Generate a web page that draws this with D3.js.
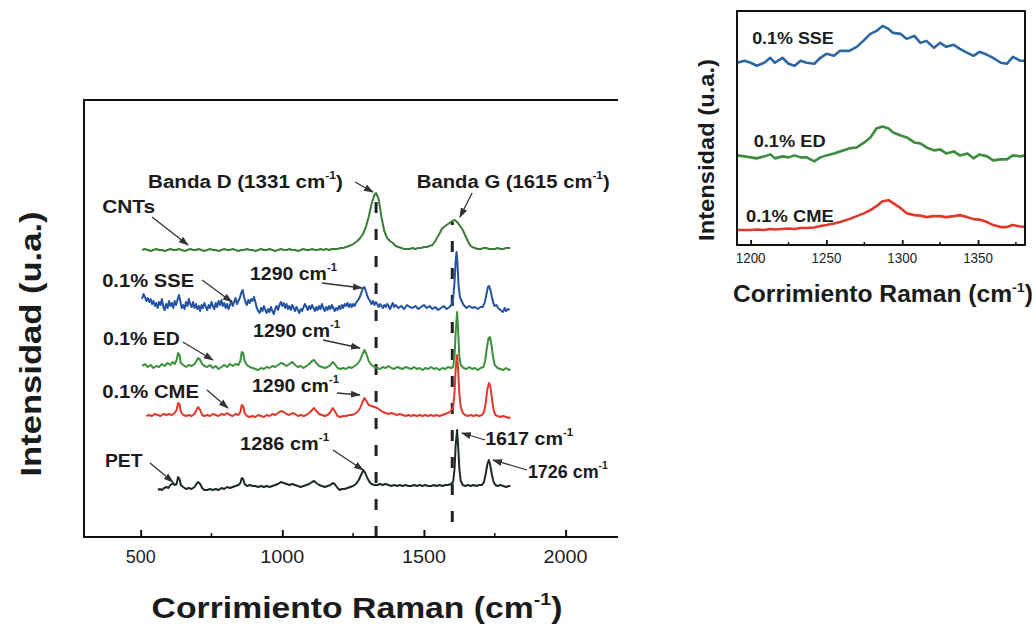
<!DOCTYPE html>
<html>
<head>
<meta charset="utf-8">
<script src="https://cdn.jsdelivr.net/npm/d3@7"></script>
<style>
  html, body { margin: 0; padding: 0; background: #fff; }
  svg { display: block; font-family: "Liberation Sans", Arial, Helvetica, sans-serif; }
</style>
</head>
<body>
<svg id="chart" width="1035" height="626"></svg>
<script>
// ---------------------------------------------------------------
// Raman spectra (wavenumber cm-1, stacked intensity in a.u.)
// ---------------------------------------------------------------
const cntsSpectrum = [[505,287],[515,288],[525,287],[535,286],[545,287],[555,288],[565,287],[575,287],[585,286],[595,287],[605,288],[615,287],[625,287],[635,288],[645,287],[655,286],[665,287],[675,288],[685,287],[695,287],[705,288],[715,287],[725,286],[735,287],[745,288],[755,287],[765,287],[775,286],[785,287],[795,288],[805,287],[815,287],[825,288],[835,287],[845,286],[855,287],[865,287],[875,288],[885,287],[895,287],[905,286],[915,287],[925,288],[935,287],[945,287],[955,288],[965,287],[975,286],[985,287],[995,288],[1005,287],[1015,287],[1025,288],[1035,287],[1045,287],[1055,286],[1065,287],[1075,288],[1085,287],[1095,287],[1105,288],[1115,287],[1125,287],[1135,288],[1145,287],[1155,288],[1165,287],[1175,288],[1185,288],[1195,288],[1205,289],[1215,289],[1225,290],[1235,291],[1245,292],[1255,294],[1265,296],[1275,299],[1285,303],[1295,310],[1305,320],[1315,333],[1325,342],[1331,344],[1340,338],[1350,320],[1360,306],[1370,299],[1380,296],[1390,294],[1400,291],[1410,290],[1420,289],[1430,288],[1440,288],[1450,288],[1460,289],[1470,288],[1480,289],[1490,289],[1500,290],[1510,290],[1520,291],[1530,292],[1540,296],[1550,301],[1556,304],[1563,308],[1570,310],[1580,312],[1590,314],[1600,316],[1609,317],[1620,314],[1630,310],[1637,307],[1645,302],[1655,296],[1662,292],[1670,290],[1680,289],[1690,288],[1700,288],[1710,289],[1720,289],[1730,288],[1740,288],[1750,288],[1760,289],[1770,288],[1780,288],[1790,289],[1800,289],[1805,289]];

const sseSpectrum = [[505,238],[510,243],[515,240],[520,236],[525,239],[530,235],[535,238],[540,233],[545,236],[550,231],[555,234],[560,229],[565,235],[570,232],[575,238],[580,230],[585,227],[590,233],[595,229],[600,236],[605,231],[610,234],[615,229],[620,236],[625,232],[630,237],[635,242],[640,236],[645,229],[650,232],[655,228],[660,235],[665,231],[670,238],[675,233],[680,230],[685,235],[690,229],[695,233],[700,228],[705,231],[710,226],[715,232],[720,229],[725,234],[730,230],[735,227],[740,232],[745,229],[750,235],[755,231],[760,228],[765,234],[770,230],[775,236],[780,232],[785,237],[790,231],[795,234],[800,229],[805,233],[810,228],[815,232],[820,236],[825,231],[830,235],[835,239],[840,233],[845,236],[850,239],[855,244],[860,247],[865,240],[870,235],[875,232],[880,237],[885,234],[890,238],[895,236],[900,240],[905,235],[910,229],[915,226],[920,224],[925,229],[930,226],[935,231],[940,227],[945,224],[950,228],[955,225],[960,230],[965,226],[970,223],[975,228],[980,231],[985,227],[990,232],[995,235],[1000,231],[1005,234],[1010,229],[1015,233],[1020,228],[1025,231],[1030,227],[1035,232],[1040,229],[1045,226],[1050,230],[1055,227],[1060,224],[1065,228],[1070,226],[1075,230],[1080,233],[1085,230],[1090,227],[1095,231],[1100,228],[1105,232],[1110,229],[1115,226],[1120,230],[1125,227],[1130,231],[1135,228],[1140,233],[1145,229],[1150,226],[1155,230],[1160,227],[1165,231],[1170,228],[1175,232],[1180,229],[1185,226],[1190,229],[1195,227],[1200,231],[1205,228],[1210,232],[1215,229],[1220,233],[1225,231],[1230,234],[1235,230],[1240,233],[1245,230],[1250,233],[1255,231],[1260,234],[1265,236],[1270,238],[1275,241],[1280,245],[1285,249],[1290,250],[1295,246],[1300,241],[1305,238],[1310,236],[1315,233],[1320,236],[1325,232],[1330,235],[1335,233],[1340,230],[1345,233],[1350,231],[1355,229],[1360,232],[1365,230],[1370,233],[1375,231],[1380,228],[1385,231],[1390,234],[1395,230],[1400,232],[1410,229],[1420,231],[1430,228],[1440,232],[1450,230],[1460,229],[1470,231],[1480,228],[1490,230],[1500,232],[1510,229],[1520,231],[1530,228],[1540,230],[1550,227],[1560,229],[1570,231],[1580,228],[1590,230],[1597,232],[1603,238],[1608,255],[1612,276],[1615,285],[1618,276],[1622,252],[1627,240],[1633,236],[1640,232],[1650,229],[1660,231],[1670,229],[1680,230],[1690,228],[1700,230],[1708,230],[1715,235],[1720,242],[1726,250],[1730,251],[1735,247],[1740,240],[1745,234],[1750,231],[1756,232],[1762,229],[1770,227],[1779,225],[1785,229],[1790,226],[1797,228],[1803,227]];

const edSpectrum = [[505,171],[515,173],[525,170],[535,172],[545,169],[555,171],[565,170],[575,173],[585,171],[595,174],[605,172],[612,175],[620,173],[627,177],[632,184],[637,182],[642,174],[650,172],[660,170],[670,172],[680,171],[690,173],[697,176],[703,179],[710,177],[717,173],[725,171],[735,170],[745,172],[755,169],[765,171],[775,168],[785,170],[795,172],[805,170],[815,173],[825,171],[835,173],[845,172],[852,176],[857,185],[862,184],[867,176],[875,172],[885,170],[895,169],[905,168],[915,167],[925,169],[935,168],[945,170],[955,169],[965,171],[975,170],[985,172],[995,174],[1005,173],[1015,171],[1025,173],[1035,175],[1045,172],[1055,170],[1065,171],[1075,169],[1085,171],[1095,173],[1105,176],[1112,177],[1120,174],[1130,171],[1140,170],[1150,169],[1160,170],[1170,172],[1178,175],[1185,173],[1195,169],[1205,168],[1215,169],[1225,168],[1235,170],[1245,169],[1255,171],[1265,173],[1275,177],[1283,183],[1290,187],[1297,183],[1305,176],[1315,172],[1325,170],[1335,169],[1345,168],[1355,170],[1365,169],[1375,171],[1385,169],[1395,168],[1405,170],[1415,169],[1425,168],[1435,170],[1445,169],[1455,168],[1465,170],[1475,168],[1485,169],[1495,167],[1505,169],[1515,168],[1525,170],[1535,168],[1545,169],[1555,167],[1565,169],[1575,168],[1585,170],[1595,169],[1603,170],[1608,180],[1612,205],[1617,225],[1621,205],[1625,180],[1630,172],[1640,169],[1650,168],[1660,170],[1670,168],[1680,169],[1690,167],[1700,169],[1710,170],[1716,176],[1722,189],[1728,199],[1733,200],[1738,193],[1744,180],[1750,172],[1760,169],[1770,168],[1780,167],[1790,169],[1800,167],[1805,168]];

const cmeSpectrum = [[520,121],[530,122],[540,121],[550,123],[560,122],[570,121],[580,123],[590,122],[600,123],[610,122],[620,124],[627,127],[632,134],[637,133],[642,125],[650,122],[660,121],[670,122],[680,121],[690,123],[697,127],[703,130],[710,127],[717,122],[725,121],[735,122],[745,121],[755,123],[765,122],[775,121],[785,123],[795,122],[805,124],[815,122],[825,121],[835,123],[845,122],[852,125],[857,132],[862,131],[867,124],[875,121],[885,120],[895,121],[905,120],[915,122],[925,121],[935,120],[945,122],[955,121],[965,123],[975,122],[985,124],[995,126],[1005,125],[1015,123],[1025,122],[1035,124],[1045,123],[1055,121],[1065,122],[1075,121],[1085,122],[1095,124],[1105,127],[1112,129],[1120,126],[1130,123],[1140,122],[1150,121],[1160,122],[1170,125],[1178,129],[1185,126],[1195,121],[1205,120],[1215,121],[1225,121],[1235,122],[1245,122],[1255,123],[1265,125],[1275,129],[1283,135],[1290,139],[1297,136],[1305,132],[1315,131],[1325,130],[1335,129],[1345,127],[1355,125],[1365,124],[1375,123],[1385,124],[1395,123],[1405,122],[1415,123],[1425,122],[1435,121],[1445,122],[1455,121],[1465,122],[1475,121],[1485,122],[1495,121],[1505,122],[1515,121],[1525,122],[1535,121],[1545,122],[1555,121],[1565,122],[1575,123],[1585,124],[1595,126],[1603,130],[1608,145],[1612,168],[1617,182],[1621,166],[1625,143],[1630,130],[1637,124],[1645,122],[1655,121],[1665,122],[1675,121],[1685,122],[1695,121],[1705,122],[1712,125],[1718,134],[1724,148],[1730,154],[1735,150],[1740,138],[1746,127],[1752,122],[1760,121],[1770,120],[1780,121],[1790,120],[1800,119],[1805,120]];

const petSpectrum = [[561,47],[568,48],[575,47],[583,49],[591,50],[598,49],[605,52],[614,54],[620,52],[627,53],[632,60],[637,58],[642,52],[650,50],[660,48],[670,49],[680,48],[690,50],[697,53],[703,55],[710,53],[717,49],[725,47],[735,47],[745,48],[755,47],[765,48],[775,47],[785,49],[795,48],[805,50],[815,49],[825,50],[835,51],[845,52],[852,54],[857,59],[862,58],[867,53],[875,51],[885,52],[895,51],[905,51],[915,50],[925,51],[935,50],[945,51],[955,50],[965,51],[975,52],[985,53],[995,55],[1005,54],[1015,53],[1025,52],[1035,53],[1045,52],[1055,51],[1065,50],[1075,51],[1085,52],[1095,53],[1105,55],[1112,56],[1120,54],[1130,52],[1140,51],[1150,50],[1160,51],[1170,52],[1178,54],[1185,53],[1195,49],[1203,47],[1210,48],[1220,48],[1230,49],[1240,50],[1250,51],[1260,53],[1270,57],[1278,62],[1286,67],[1293,64],[1300,59],[1308,55],[1315,53],[1325,52],[1335,52],[1345,53],[1355,52],[1365,53],[1375,52],[1385,51],[1395,52],[1405,51],[1415,52],[1425,51],[1435,52],[1445,51],[1455,51],[1465,52],[1475,51],[1485,52],[1495,51],[1505,52],[1515,51],[1525,51],[1535,52],[1545,51],[1555,52],[1565,51],[1575,52],[1585,52],[1595,53],[1603,55],[1608,68],[1612,92],[1617,107],[1621,90],[1625,68],[1630,56],[1637,52],[1645,51],[1655,52],[1665,51],[1675,52],[1685,51],[1695,52],[1705,52],[1712,55],[1718,63],[1724,73],[1729,77],[1734,72],[1740,62],[1746,55],[1752,52],[1760,51],[1770,52],[1780,51],[1790,50],[1800,51],[1805,51]];

const seriesNames  = ["CNTs", "0.1% SSE", "0.1% ED", "0.1% CME", "PET"];
const seriesColors = ["#3b7d37", "#2553a3", "#3a913c", "#e2382a", "#1f2a24"];
const seriesData   = [cntsSpectrum, sseSpectrum, edSpectrum, cmeSpectrum, petSpectrum];

// Reference band positions (dashed guides) and the top of each guide
const bandPositions = [1331, 1600];
const bandTops      = [342, 315];

// Axis settings
const mainXDomain = [300, 2185];
const mainYDomain = [0, 437];
const mainXTicks  = [500, 1000, 1500, 2000];
const mainXMinor  = [750, 1250, 1750];

// Peak annotations: label text, label anchor (wn, a.u.), arrow from -> to
const peakLabels = [
  { pre: "Banda D (1331 cm", sup: "-1", post: ")", at: [526, 349], w: 195, from: [1257, 355], to: [1320, 345] },
  { pre: "Banda G (1615 cm", sup: "-1", post: ")", at: [1475, 349], w: 193, from: [1670, 344], to: [1627, 320] },
  { pre: "CNTs", at: [364, 324], w: 53, from: [540, 320], to: [667, 292] },
  { pre: "0.1% SSE", at: [364, 250], w: 92, from: [717, 257], to: [822, 235] },
  { pre: "1290 cm", sup: "-1", at: [886, 257], w: 87, from: [1140, 254], to: [1281, 249] },
  { pre: "0.1% ED", at: [367, 192], w: 77, from: [649, 195], to: [755, 177] },
  { pre: "1290 cm", sup: "-1", at: [897, 200], w: 87, from: [1144, 197], to: [1274, 189] },
  { pre: "0.1% CME", at: [364, 139], w: 97, from: [734, 147], to: [808, 129] },
  { pre: "1290 cm", sup: "-1", at: [893, 145], w: 87, from: [1193, 144], to: [1274, 142] },
  { pre: "PET", at: [374, 70], w: 38, from: [533, 74], to: [614, 55] },
  { pre: "1286 cm", sup: "-1", at: [851, 87], w: 89, from: [1179, 87], to: [1285, 67] },
  { pre: "1617 cm", sup: "-1", at: [1716, 92], w: 88, from: [1716, 97], to: [1634, 104] },
  { pre: "1726 cm", sup: "-1", at: [1867, 59], w: 80, from: [1864, 67], to: [1744, 77] }
];

// Inset: 1190-1380 cm-1 region
const insetWavenumbers = [1191,1196,1200,1204,1209,1213,1216,1221,1225,1229,1233,1237,1242,1246,1250,1255,1259,1265,1270,1275,1279,1283,1287,1291,1294,1299,1303,1308,1312,1316,1321,1325,1329,1334,1338,1343,1347,1351,1356,1360,1365,1369,1373,1378,1381];
const insetSSE = [183,185,183,180,183,188,183,188,182,180,185,183,182,188,192,190,195,195,199,206,212,215,220,217,213,212,207,210,203,205,198,203,199,201,197,193,190,194,191,188,183,182,189,185,185];
const insetED  = [90,89,88,87,89,91,87,89,88,90,88,88,84,88,90,92,94,97,98,103,108,117,119,117,113,110,108,103,102,98,95,96,92,94,90,92,87,91,89,85,86,86,90,89,90];
const insetCME = [15,15,15,15.5,15,16,15.5,16,16.5,16,17,17,17.5,19,20,21.5,23,26,29,32,35,39,44,45,42,37,32,30,29.5,28,29,29,28,29,30,28,26,25.5,23,20,18,18,20,18.5,18];
const insetNames  = ["0.1% SSE", "0.1% ED", "0.1% CME"];
const insetColors = ["#2a67a3", "#3d8b3f", "#e2382a"];
const insetLabelAt = [[1201, 202], [1202, 98], [1197, 23]];
const insetLabelW  = [82, 72, 88];
const insetXDomain = [1191, 1381];
const insetYDomain = [0, 235];
const insetXTicks  = [1200, 1250, 1300, 1350];
const insetXMinor  = [1225, 1275, 1325, 1375];

// ---------------------------------------------------------------
const svg = d3.select("#chart");
const ink = "#1b1b1b";

// text helper: optional superscript, stretched to a given width
function label(parent, o) {
  const g = parent.append("g")
    .attr("transform", `translate(${o.x},${o.y}) rotate(${o.rotate || 0})`);
  const t = g.append("text")
    .attr("text-anchor", o.anchor || "start")
    .attr("font-size", o.size)
    .attr("font-weight", o.weight || "bold")
    .attr("fill", o.fill || ink);
  t.append("tspan").text(o.pre);
  if (o.sup) {
    t.append("tspan").attr("font-size", o.size * 0.58).attr("dy", -o.size * 0.45).text(o.sup);
    t.append("tspan").attr("dy", o.size * 0.45).text(o.post || "");
  }
  if (o.width) {
    const w = t.node().getBBox().width;
    if (w > 0) t.attr("transform", `scale(${o.width / w},1)`);
  }
  return g;
}

// arrow head marker
svg.append("defs").append("marker")
  .attr("id", "arrowHead")
  .attr("viewBox", "0 0 10 8")
  .attr("refX", 9).attr("refY", 4)
  .attr("markerWidth", 10).attr("markerHeight", 8)
  .attr("markerUnits", "userSpaceOnUse")
  .attr("orient", "auto")
  .append("path").attr("d", "M0,0.5 L10,4 L0,7.5 Z").attr("fill", "#333");

// ---------------- main panel ----------------
const M = { left: 84, right: 618, top: 100, bottom: 537 };
const x = d3.scaleLinear().domain(mainXDomain).range([M.left, M.right]);
const y = d3.scaleLinear().domain(mainYDomain).range([M.bottom, M.top]);

const mainG = svg.append("g");

// dashed band guides
bandPositions.forEach((wn, i) => {
  mainG.append("line")
    .attr("x1", x(wn)).attr("x2", x(wn))
    .attr("y1", y(0)).attr("y2", y(bandTops[i]))
    .attr("stroke", "#222").attr("stroke-width", 3)
    .attr("stroke-dasharray", "11,16")
    .attr("stroke-dashoffset", i === 0 ? 0 : 12);
});

const line = d3.line().x(d => x(d[0])).y(d => y(d[1]));
seriesData.forEach((s, i) => {
  mainG.append("path")
    .datum(s)
    .attr("d", line)
    .attr("fill", "none")
    .attr("stroke", seriesColors[i])
    .attr("stroke-width", 2)
    .attr("stroke-linejoin", "round");
});

// frame
mainG.append("path")
  .attr("d", `M${M.right},${M.top} H${M.left} V${M.bottom} H${M.right}`)
  .attr("fill", "none").attr("stroke", "#111").attr("stroke-width", 2);

// x axis ticks (inward) and labels
const xAxis = mainG.append("g").attr("transform", `translate(0,${M.bottom})`)
  .call(d3.axisBottom(x).tickValues(mainXTicks).tickSizeInner(-7).tickSizeOuter(0).tickFormat(d3.format("d")));
xAxis.select(".domain").remove();
xAxis.selectAll(".tick line").attr("stroke", "#111").attr("stroke-width", 2);
xAxis.selectAll(".tick text").remove();
mainXTicks.forEach(v => label(mainG, { x: x(v), y: 563, pre: String(v), size: 18, weight: "normal", anchor: "middle", width: v < 1000 ? 30 : 44, fill: "#222" }));
mainG.selectAll(".minorTick").data(mainXMinor).join("line")
  .attr("class", "minorTick")
  .attr("x1", d => x(d)).attr("x2", d => x(d))
  .attr("y1", M.bottom).attr("y2", M.bottom - 4)
  .attr("stroke", "#111").attr("stroke-width", 1.5);

// annotations
peakLabels.forEach(p => {
  mainG.append("line")
    .attr("x1", x(p.from[0])).attr("y1", y(p.from[1]))
    .attr("x2", x(p.to[0])).attr("y2", y(p.to[1]))
    .attr("stroke", "#333").attr("stroke-width", 1.3)
    .attr("marker-end", "url(#arrowHead)");
  label(mainG, { x: x(p.at[0]), y: y(p.at[1]), pre: p.pre, sup: p.sup, post: p.post, size: 19, width: p.w });
});

// axis titles
label(svg, { x: 41, y: 344, pre: "Intensidad (u.a.)", size: 30, anchor: "middle", rotate: -90, width: 265 });
label(svg, { x: 357, y: 618, pre: "Corrimiento Raman (cm", sup: "-1", post: ")", size: 30, anchor: "middle", width: 411 });

// ---------------- inset panel ----------------
const I = { left: 737, right: 1025, top: 11, bottom: 245 };
const xi = d3.scaleLinear().domain(insetXDomain).range([I.left, I.right]);
const yi = d3.scaleLinear().domain(insetYDomain).range([I.bottom, I.top]);
const insetG = svg.append("g");

const insetSeries = [insetSSE, insetED, insetCME];
const insetLine = d3.line().x((d, k) => xi(insetWavenumbers[k])).y(d => yi(d));
insetSeries.forEach((s, i) => {
  insetG.append("path")
    .datum(s)
    .attr("d", insetLine)
    .attr("fill", "none")
    .attr("stroke", insetColors[i])
    .attr("stroke-width", 2.6)
    .attr("stroke-linejoin", "round");
  label(insetG, { x: xi(insetLabelAt[i][0]), y: yi(insetLabelAt[i][1]), pre: insetNames[i], size: 16, width: insetLabelW[i] });
});

insetG.append("rect")
  .attr("x", I.left).attr("y", I.top)
  .attr("width", I.right - I.left).attr("height", I.bottom - I.top)
  .attr("fill", "none").attr("stroke", "#111").attr("stroke-width", 2);

const xiAxis = insetG.append("g").attr("transform", `translate(0,${I.bottom})`)
  .call(d3.axisBottom(xi).tickValues(insetXTicks).tickSizeInner(-5).tickSizeOuter(0));
xiAxis.select(".domain").remove();
xiAxis.selectAll(".tick line").attr("stroke", "#111").attr("stroke-width", 1.8);
xiAxis.selectAll(".tick text").remove();
insetXTicks.forEach(v => label(insetG, { x: xi(v), y: 263, pre: String(v), size: 14, weight: "normal", anchor: "middle", width: 30, fill: "#222" }));
insetG.selectAll(".minorTick").data(insetXMinor).join("line")
  .attr("class", "minorTick")
  .attr("x1", d => xi(d)).attr("x2", d => xi(d))
  .attr("y1", I.bottom).attr("y2", I.bottom - 3)
  .attr("stroke", "#111").attr("stroke-width", 1.5);

label(svg, { x: 714, y: 150, pre: "Intensidad (u.a.)", size: 22, anchor: "middle", rotate: -90, width: 182 });
label(svg, { x: 883, y: 302, pre: "Corrimiento Raman (cm", sup: "-1", post: ")", size: 23, anchor: "middle", width: 300 });
</script>
</body>
</html>
